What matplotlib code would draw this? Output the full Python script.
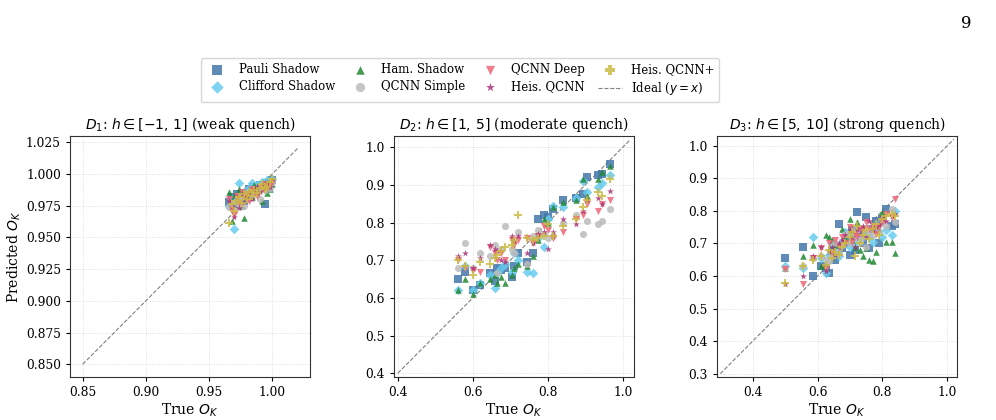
import numpy as np
import matplotlib
matplotlib.use("Agg")
import matplotlib.pyplot as plt

plt.rcParams["font.family"] = ["DejaVu Serif"]
plt.rcParams["mathtext.fontset"] = "dejavusans"

models = ["Pauli Shadow", "Clifford Shadow", "Ham. Shadow", "QCNN Simple",
          "QCNN Deep", "Heis. QCNN", "Heis. QCNN+"]
colors = ["#4477AA", "#66CCEE", "#228833", "#BBBBBB", "#EE6677", "#AA3377", "#CCBB44"]
markers = ["s", "D", "^", "o", "v", "*", "P"]
sizes = [30, 24, 22, 26, 26, 26, 30]

titles = [r"$D_1$: $h \in [-1,\, 1]$ (weak quench)",
          r"$D_2$: $h \in [1,\, 5]$ (moderate quench)",
          r"$D_3$: $h \in [5,\, 10]$ (strong quench)"]
ideal_lo = [0.85, 0.4, 0.3]

# D1: weak quench
true_d1 = [0.966, 0.968, 0.970, 0.972, 0.974, 0.976, 0.978, 0.980, 0.982,
           0.984, 0.986, 0.988, 0.990, 0.992, 0.994, 0.996, 0.998, 1.000]
pred_d1 = {
    "Pauli Shadow":    [0.978, 0.982, 0.976, 0.984, 0.980, 0.985, 0.979, 0.983, 0.988,
                        0.986, 0.990, 0.987, 0.991, 0.989, 0.976, 0.993, 0.992, 0.995],
    "Clifford Shadow": [0.975, 0.980, 0.957, 0.978, 0.993, 0.982, 0.986, 0.981, 0.989,
                        0.993, 0.985, 0.991, 0.988, 0.994, 0.990, 0.995, 0.993, 0.996],
    "Ham. Shadow":     [0.986, 0.963, 0.983, 0.980, 0.988, 0.975, 0.965, 0.984, 0.987,
                        0.982, 0.991, 0.985, 0.989, 0.979, 0.993, 0.985, 0.988, 0.992],
    "QCNN Simple":     [0.974, 0.977, 0.972, 0.980, 0.976, 0.983, 0.975, 0.985, 0.981,
                        0.987, 0.984, 0.986, 0.980, 0.990, 0.987, 0.991, 0.989, 0.994],
    "QCNN Deep":       [0.980, 0.972, 0.968, 0.983, 0.977, 0.986, 0.981, 0.984, 0.979,
                        0.988, 0.986, 0.983, 0.990, 0.988, 0.992, 0.989, 0.991, 0.994],
    "Heis. QCNN":      [0.979, 0.975, 0.966, 0.981, 0.973, 0.984, 0.978, 0.982, 0.985,
                        0.980, 0.988, 0.990, 0.986, 0.991, 0.989, 0.993, 0.990, 0.995],
    "Heis. QCNN+":     [0.961, 0.976, 0.971, 0.979, 0.982, 0.977, 0.984, 0.980, 0.986,
                        0.983, 0.987, 0.985, 0.989, 0.992, 0.988, 0.990, 0.994, 0.996],
}

# D2: moderate quench
true_d2 = [0.56, 0.58, 0.60, 0.62, 0.645, 0.66, 0.665, 0.675, 0.685, 0.705, 0.71, 0.72,
           0.745, 0.76, 0.775, 0.79, 0.80, 0.815, 0.84, 0.875, 0.895, 0.905, 0.935,
           0.945, 0.965]
pred_d2 = {
    "Pauli Shadow":    [0.65, 0.67, 0.62, 0.635, 0.665, 0.645, 0.68, 0.675, 0.68, 0.655,
                        0.685, 0.72, 0.695, 0.72, 0.81, 0.82, 0.815, 0.835, 0.86, 0.865,
                        0.875, 0.92, 0.925, 0.93, 0.955],
    "Clifford Shadow": [0.62, 0.685, 0.62, 0.64, 0.66, 0.625, 0.665, 0.68, 0.69, 0.67,
                        0.72, 0.70, 0.67, 0.665, 0.76, 0.735, 0.81, 0.845, 0.84, 0.865,
                        0.91, 0.88, 0.895, 0.905, 0.925],
    "Ham. Shadow":     [0.62, 0.65, 0.61, 0.64, 0.65, 0.66, 0.64, 0.655, 0.64, 0.66,
                        0.68, 0.69, 0.685, 0.71, 0.755, 0.81, 0.80, 0.84, 0.855, 0.86,
                        0.915, 0.87, 0.915, 0.935, 0.95],
    "QCNN Simple":     [0.68, 0.745, 0.68, 0.72, 0.71, 0.74, 0.665, 0.73, 0.79, 0.73,
                        0.72, 0.775, 0.69, 0.765, 0.78, 0.77, 0.76, 0.765, 0.80, 0.82,
                        0.77, 0.805, 0.795, 0.805, 0.835],
    "QCNN Deep":       [0.70, 0.68, 0.675, 0.67, 0.735, 0.72, 0.70, 0.72, 0.70, 0.755,
                        0.74, 0.755, 0.76, 0.745, 0.765, 0.79, 0.78, 0.76, 0.775, 0.81,
                        0.82, 0.85, 0.83, 0.85, 0.86],
    "Heis. QCNN":      [0.71, 0.72, 0.68, 0.705, 0.74, 0.73, 0.725, 0.70, 0.695, 0.765,
                        0.75, 0.765, 0.72, 0.745, 0.77, 0.775, 0.73, 0.775, 0.81, 0.795,
                        0.83, 0.86, 0.865, 0.85, 0.885],
    "Heis. QCNN+":     [0.70, 0.685, 0.66, 0.695, 0.69, 0.705, 0.715, 0.725, 0.735, 0.74,
                        0.755, 0.82, 0.76, 0.755, 0.76, 0.765, 0.795, 0.765, 0.79, 0.81,
                        0.84, 0.86, 0.88, 0.87, 0.915],
}

# D3: strong quench
true_d3 = [0.50, 0.555, 0.585, 0.61, 0.625, 0.635, 0.645, 0.655, 0.665, 0.675, 0.685,
           0.70, 0.705, 0.715, 0.72, 0.73, 0.74, 0.75, 0.76, 0.77, 0.78, 0.79, 0.80,
           0.81, 0.83, 0.84]
pred_d3 = {
    "Pauli Shadow":    [0.655, 0.69, 0.60, 0.63, 0.625, 0.61, 0.68, 0.65, 0.76, 0.685,
                        0.705, 0.665, 0.74, 0.68, 0.795, 0.74, 0.70, 0.78, 0.685, 0.745,
                        0.77, 0.70, 0.775, 0.805, 0.755, 0.76],
    "Clifford Shadow": [0.63, 0.625, 0.72, 0.655, 0.61, 0.665, 0.70, 0.68, 0.66, 0.705,
                        0.735, 0.69, 0.72, 0.70, 0.745, 0.715, 0.725, 0.73, 0.72, 0.705,
                        0.745, 0.76, 0.72, 0.74, 0.725, 0.80],
    "Ham. Shadow":     [0.625, 0.66, 0.695, 0.63, 0.725, 0.72, 0.71, 0.695, 0.675, 0.745,
                        0.715, 0.775, 0.71, 0.69, 0.765, 0.68, 0.66, 0.685, 0.65, 0.645,
                        0.675, 0.745, 0.795, 0.705, 0.705, 0.67],
    "QCNN Simple":     [0.625, 0.63, 0.655, 0.66, 0.65, 0.645, 0.66, 0.70, 0.67, 0.695,
                        0.73, 0.70, 0.715, 0.74, 0.73, 0.705, 0.72, 0.69, 0.735, 0.725,
                        0.755, 0.735, 0.77, 0.755, 0.805, 0.765],
    "QCNN Deep":       [0.62, 0.575, 0.655, 0.685, 0.62, 0.70, 0.67, 0.71, 0.69, 0.72,
                        0.70, 0.75, 0.705, 0.73, 0.72, 0.745, 0.74, 0.765, 0.745, 0.755,
                        0.73, 0.75, 0.765, 0.79, 0.78, 0.835],
    "Heis. QCNN":      [0.575, 0.60, 0.66, 0.69, 0.615, 0.675, 0.69, 0.665, 0.70, 0.71,
                        0.725, 0.74, 0.72, 0.69, 0.745, 0.73, 0.755, 0.72, 0.77, 0.74,
                        0.75, 0.76, 0.78, 0.77, 0.785, 0.79],
    "Heis. QCNN+":     [0.58, 0.63, 0.65, 0.66, 0.635, 0.68, 0.655, 0.675, 0.665, 0.69,
                        0.70, 0.72, 0.735, 0.66, 0.755, 0.70, 0.725, 0.74, 0.715, 0.745,
                        0.76, 0.725, 0.775, 0.785, 0.79, 0.785],
}

panels = [(true_d1, pred_d1), (true_d2, pred_d2), (true_d3, pred_d3)]

fig = plt.figure(figsize=(9.96, 4.2), dpi=100)
lefts = [0.0703, 0.3956, 0.7199]
axes = [fig.add_axes([l, 0.1024, 0.241, 0.574]) for l in lefts]

for ax, (xt, preds), title, lo in zip(axes, panels, titles, ideal_lo):
    for name, c, m, s in zip(models, colors, markers, sizes):
        ax.scatter(xt, preds[name], c=c, marker=m, s=s, alpha=0.85,
                   linewidths=0, label=name, zorder=3)
    ax.plot([lo, 1.02], [lo, 1.02], ls="--", color="grey", lw=0.8,
            label="Ideal ($y = x$)", zorder=2)
    ax.set_xlim(lo - 0.01, 1.03)
    ax.set_ylim(lo - 0.01, 1.03)
    ax.set_title(title, fontsize=10, pad=5)
    ax.set_xlabel("True $O_K$", fontsize=10, labelpad=2)
    ax.tick_params(labelsize=8.8, length=3, width=0.8)
    ax.grid(True, ls=":", lw=0.6, color="#cccccc", alpha=0.8)
    for sp in ax.spines.values():
        sp.set_color("#333333")
        sp.set_linewidth(0.8)

axes[0].set_xticks([0.85, 0.90, 0.95, 1.00])
axes[0].set_yticks(np.arange(0.85, 1.026, 0.025))
axes[0].yaxis.set_major_formatter(matplotlib.ticker.FormatStrFormatter("%.3f"))
axes[0].xaxis.set_major_formatter(matplotlib.ticker.FormatStrFormatter("%.2f"))
axes[0].set_ylabel("Predicted $O_K$", fontsize=10, labelpad=2)
for ax in axes[1:]:
    ax.set_xticks([0.4, 0.6, 0.8, 1.0])
axes[1].set_yticks([0.4, 0.5, 0.6, 0.7, 0.8, 0.9, 1.0])
axes[2].set_yticks([0.3, 0.4, 0.5, 0.6, 0.7, 0.8, 0.9, 1.0])

handles, labels = axes[0].get_legend_handles_labels()
fig.legend(handles, labels, loc="upper center", bbox_to_anchor=(0.462, 0.875),
           ncol=4, fontsize=8.5, frameon=True, edgecolor="#cccccc",
           markerscale=1.3, handlelength=2.0, handletextpad=0.8,
           columnspacing=1.1, borderpad=0.4, labelspacing=0.35)

fig.text(0.975, 0.965, "9", fontsize=12, ha="right", va="top")

fig.savefig("out.png", dpi=100)
